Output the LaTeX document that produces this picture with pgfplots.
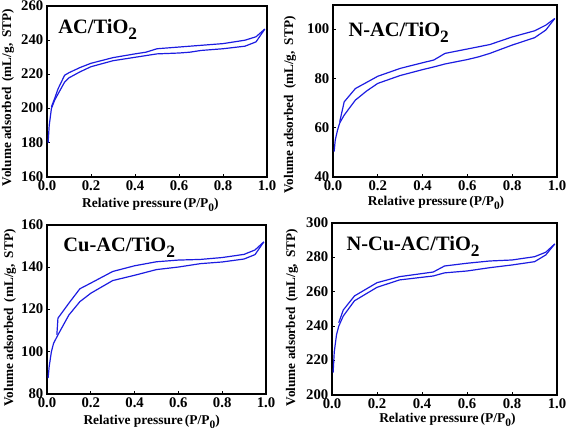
\documentclass[border=0pt]{standalone}
\usepackage{fontspec}
\setmainfont{Liberation Serif}
\usepackage{graphicx}
\usepackage{pgfplots}
\pgfplotsset{compat=1.18}
\definecolor{curve}{RGB}{28,28,225}
\newcommand{\sub}[1]{\raisebox{-0.3em}{\scalebox{0.85}{#1}}}
\pgfplotsset{
  panel/.style={
    scale only axis,
    xmin=0, xmax=1,
    xtick={0,0.2,0.4,0.6,0.8,1.0},
    xticklabels={0.0,0.2,0.4,0.6,0.8,1.0},
    /pgf/number format/assume math mode=true,
    xticklabel style={inner sep=1bp, yshift=-2.5bp},
    yticklabel style={inner sep=2bp, yshift=0.5bp, xshift=-1.5bp},
    tick label style={font=\fontsize{14.8}{15}\selectfont\bfseries},
    tick pos=left,
    major tick length=3bp,
    axis line style={line width=1.3bp},
    every tick/.style={black,line width=0.9bp},
    xlabel={\fontsize{13.5}{14}\selectfont\bfseries Relative pressure\,(P/P\sub{0})},
    ylabel={\fontsize{13.3}{14}\selectfont\bfseries Volume adsorbed\hspace{0.45em}(mL/g,\hspace{0.45em}STP)},
    cycle list={{curve,line width=1.2bp,no marks},{curve,line width=1.2bp,no marks}},
  }
}
\begin{document}
\begin{tikzpicture}
\path[use as bounding box] (0,0) rectangle (567bp,434bp);
% Panel 1
\begin{axis}[panel, at={(47bp,257bp)}, anchor=south west, width=220bp, height=171bp,
  ymin=160, ymax=260, ytick={160,180,...,260},
  xlabel style={at={(axis description cs:0.47,-0.181)},anchor=base},
  ylabel style={at={(axis description cs:-0.177,0.465)},anchor=center}]
\addplot coordinates {(0.005,180) (0.01,190) (0.02,200) (0.035,205) (0.05,208.5) (0.08,215.5) (0.1,218) (0.15,221.5) (0.2,224.5) (0.3,228) (0.4,230) (0.5,232) (0.6,232.5) (0.65,233) (0.7,234) (0.8,235) (0.9,236.5) (0.95,239) (0.99,246.5)};
\addplot coordinates {(0.99,246.5) (0.95,242) (0.9,240) (0.8,238) (0.7,237) (0.6,236) (0.5,235) (0.45,233) (0.4,232) (0.3,229.8) (0.2,226.5) (0.15,224) (0.1,221) (0.08,219.5) (0.05,211.5) (0.035,206) (0.02,201)};
\node[anchor=base west,font=\fontsize{20.5}{20}\selectfont\bfseries] at (rel axis cs:0.036,0.842) {AC/TiO\sub{2}};
\end{axis}
% Panel 2
\begin{axis}[panel, at={(333bp,257bp)}, anchor=south west, width=224bp, height=172bp,
  ymin=40, ymax=110, ytick={40,60,80,100},
  xlabel style={at={(axis description cs:0.46,-0.163)},anchor=base},
  ylabel style={at={(axis description cs:-0.192,0.419)},anchor=center}]
\addplot coordinates {(0.005,50.3) (0.01,55) (0.02,59) (0.03,62) (0.05,65.2) (0.1,71.3) (0.15,75) (0.2,78.1) (0.3,81.3) (0.4,83.7) (0.45,84.8) (0.5,86) (0.6,87.8) (0.65,88.9) (0.7,90.3) (0.8,93.7) (0.9,96.7) (0.95,99.8) (0.99,104.5)};
\addplot coordinates {(0.99,104.5) (0.95,101.8) (0.9,99.5) (0.8,97) (0.7,93.9) (0.65,93) (0.5,90.3) (0.45,87.6) (0.4,86.5) (0.3,84.2) (0.2,81) (0.1,76) (0.05,70.6) (0.03,62.5)};
\node[anchor=base west,font=\fontsize{20.5}{20}\selectfont\bfseries] at (rel axis cs:0.054,0.816) {N-AC/TiO\sub{2}};
\end{axis}
% Panel 3
\begin{axis}[panel, at={(47bp,40bp)}, anchor=south west, width=219bp, height=169bp,
  ymin=80, ymax=160, ytick={80,100,...,160},
  xlabel style={at={(axis description cs:0.478,-0.183)},anchor=base},
  ylabel style={at={(axis description cs:-0.169,0.45)},anchor=center}]
\addplot coordinates {(0.005,87.5) (0.01,93) (0.02,100) (0.03,104) (0.05,108) (0.1,117.4) (0.15,123.7) (0.2,127.7) (0.3,133.7) (0.4,136.2) (0.5,138.9) (0.6,140.1) (0.7,141.7) (0.8,142.5) (0.9,143.9) (0.95,146) (0.99,152)};
\addplot coordinates {(0.99,152) (0.95,148.2) (0.9,146.1) (0.8,144.6) (0.7,143.7) (0.6,143.4) (0.5,142.6) (0.4,140.7) (0.3,138) (0.2,132.5) (0.15,129.8) (0.1,123) (0.05,115.9) (0.045,108)};
\node[anchor=base west,font=\fontsize{20.5}{20}\selectfont\bfseries] at (rel axis cs:0.059,0.842) {Cu-AC/TiO\sub{2}};
\end{axis}
% Panel 4
\begin{axis}[panel, at={(332bp,39bp)}, anchor=south west, width=225bp, height=172bp,
  ymin=200, ymax=300, ytick={200,220,...,300},
  xlabel style={at={(axis description cs:0.513,-0.157)},anchor=base},
  ylabel style={at={(axis description cs:-0.178,0.45)},anchor=center}]
\addplot coordinates {(0.005,213) (0.01,225) (0.02,235) (0.03,240) (0.05,245.9) (0.1,254.8) (0.2,262.6) (0.3,266.9) (0.45,269.2) (0.5,271) (0.6,272.1) (0.7,274) (0.8,275.6) (0.9,277.5) (0.95,281.4) (0.99,287.8)};
\addplot coordinates {(0.99,287.8) (0.95,283) (0.9,280.4) (0.8,278.5) (0.7,277.9) (0.6,276.6) (0.5,275) (0.45,271.5) (0.3,268.8) (0.2,265.3) (0.1,257.6) (0.05,249.4) (0.03,242)};
\node[anchor=base west,font=\fontsize{20.5}{20}\selectfont\bfseries] at (rel axis cs:0.049,0.843) {N-Cu-AC/TiO\sub{2}};
\end{axis}
\end{tikzpicture}
\end{document}
